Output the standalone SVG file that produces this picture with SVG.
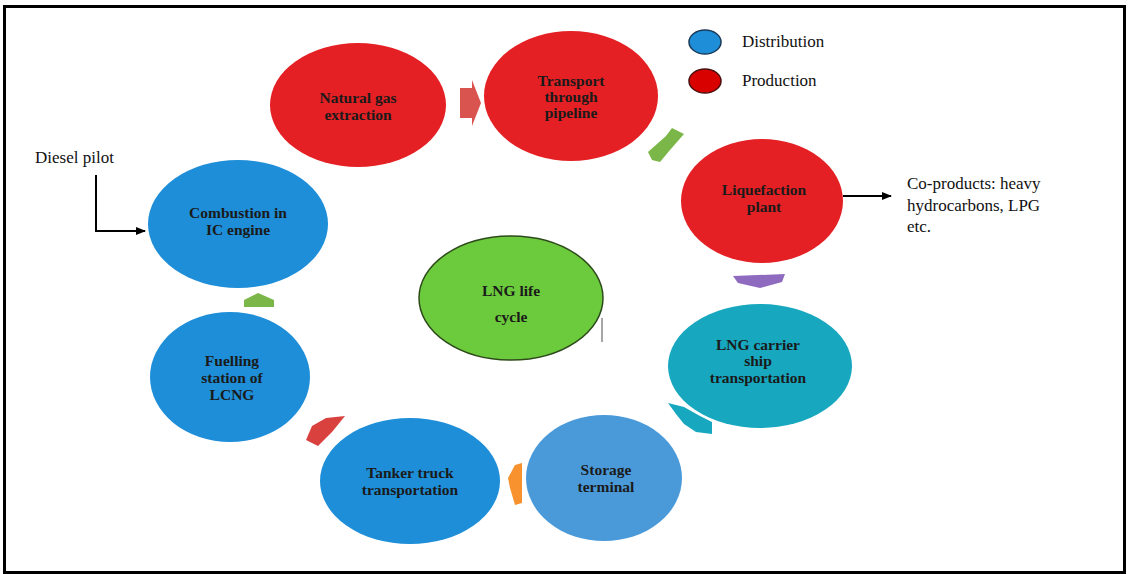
<svg xmlns="http://www.w3.org/2000/svg" width="1129" height="574" viewBox="0 0 1129 574">
<style>
.t{font-family:"Liberation Serif","Times New Roman",serif;font-weight:bold;font-size:15.5px;fill:#1a1a1a;text-anchor:middle}
.l{font-family:"Liberation Serif","Times New Roman",serif;font-size:17px;fill:#111}
.red{fill:#E42024}
.blue{fill:#1E8ED8}
.ln{stroke:#000;stroke-width:2;fill:none}
</style>
<defs>
<marker id="ah" markerWidth="10" markerHeight="8" refX="9" refY="4" orient="auto" markerUnits="userSpaceOnUse">
<path d="M0,0 L10,4 L0,8 Z" fill="#000"/>
</marker>
</defs>
<rect x="0" y="0" width="1129" height="574" fill="#fff"/>
<rect x="4.5" y="6.5" width="1120" height="566" fill="none" stroke="#000" stroke-width="3"/>

<g id="legend">
<ellipse cx="705" cy="42" rx="16" ry="12" fill="#1E8ED8" stroke="#1a3a5a" stroke-width="1.5"/>
<ellipse cx="705" cy="81" rx="16" ry="12" fill="#D90000" stroke="#4a1010" stroke-width="1.5"/>
<text class="l" x="742" y="47" font-size="16">Distribution</text>
<text class="l" x="742" y="86" font-size="16">Production</text>
</g>

<g id="n1"><ellipse class="red" cx="358" cy="105" rx="88" ry="62" fill="#E01B1B"/>
<text class="t" x="358" y="103">Natural gas</text><text class="t" x="358" y="120">extraction</text></g>
<g id="n2"><ellipse class="red" cx="571" cy="96" rx="87" ry="65"/>
<text class="t" x="571" y="86">Transport</text><text class="t" x="571" y="102">through</text><text class="t" x="571" y="118">pipeline</text></g>
<g id="n3"><ellipse class="red" cx="762" cy="201" rx="81" ry="62"/>
<text class="t" x="764" y="195">Liquefaction</text><text class="t" x="764" y="212">plant</text></g>
<g id="n4"><ellipse cx="760" cy="366" rx="92" ry="62" fill="#17A7BF"/>
<text class="t" x="758" y="350">LNG carrier</text><text class="t" x="758" y="366">ship</text><text class="t" x="758" y="383">transportation</text></g>
<g id="n5"><ellipse cx="604" cy="478" rx="78" ry="63" fill="#4A9ADA"/>
<text class="t" x="606" y="475">Storage</text><text class="t" x="606" y="492">terminal</text></g>
<g id="n6"><ellipse class="blue" cx="410" cy="481" rx="90" ry="63"/>
<text class="t" x="410" y="478">Tanker truck</text><text class="t" x="410" y="495">transportation</text></g>
<g id="n7"><ellipse class="blue" cx="230" cy="377" rx="80" ry="65"/>
<text class="t" x="232" y="366">Fuelling</text><text class="t" x="232" y="383">station of</text><text class="t" x="232" y="400">LCNG</text></g>
<g id="n8"><ellipse class="blue" cx="238" cy="224" rx="90" ry="64"/>
<text class="t" x="238" y="218">Combustion in</text><text class="t" x="238" y="235">IC engine</text></g>
<g id="center"><ellipse cx="511" cy="298" rx="92" ry="62" fill="#6CCB3C" stroke="#2d4a1a" stroke-width="1.5"/>
<text class="t" x="511" y="296" font-size="21">LNG life</text><text class="t" x="511" y="322" font-size="21">cycle</text></g>
<line x1="602" y1="318" x2="602" y2="342" stroke="#888" stroke-width="1.5"/>

<g id="connectors">
<polygon points="460,88 472,88 472,80 481,103 472,126 472,118 460,118" fill="#D9534F"/>
<polygon points="648,152 666,136 672,128 684,134 670,150 660,162 652,160" fill="#7AB648"/>
<polygon points="733,276 785,274 782,282 760,288 738,283" fill="#8E6BBF"/>
<polygon points="668,403 684,407 700,416 712,422 712,434 696,432 684,424 676,414" fill="#17A7BF"/>
<polygon points="522,463 522,503 515,505 510,488 508,478 515,465" fill="#F7922F"/>
<polygon points="345,416 332,432 318,446 306,440 312,426 326,418" fill="#D9413E"/>
<polygon points="244,307 244,300 258,293 274,300 274,307" fill="#7AB648"/>
<path class="ln" d="M96,175 L96,231 L145,231" marker-end="url(#ah)"/>
<path class="ln" d="M843,196 L891,196" marker-end="url(#ah)"/>
</g>
<text class="l" x="35" y="163">Diesel pilot</text>
<text class="l" x="907" y="189" font-size="18">Co-products: heavy</text>
<text class="l" x="907" y="211" font-size="18">hydrocarbons, LPG</text>
<text class="l" x="907" y="232" font-size="18">etc.</text>
</svg>
